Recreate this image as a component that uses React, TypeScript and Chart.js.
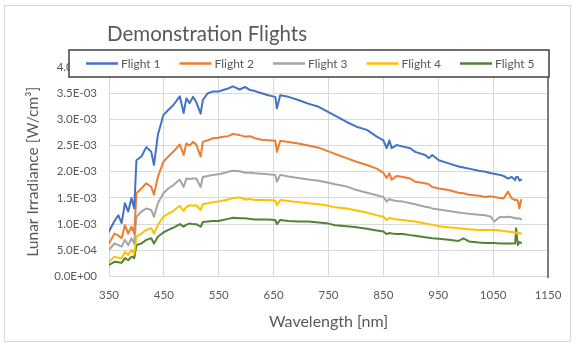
import React, { useEffect, useRef } from 'react';
import { Chart, registerables } from 'chart.js';

Chart.register(...registerables);

const chartTitle = 'Demonstration Flights';
const xAxisTitle = 'Wavelength [nm]';
const yAxisTitle = 'Lunar Irradiance [W/cm³]';

const seriesLabels = ['Flight 1', 'Flight 2', 'Flight 3', 'Flight 4', 'Flight 5'];
const seriesColors = ['#4472C4', '#ED7D31', '#A5A5A5', '#FFC000', '#548235'];

const xMin = 350;
const xMax = 1150;
const xStep = 100;
const yMin = 0;
const yMax = 0.004;
const yStep = 0.0005;

// wavelength samples [nm]
const wavelengths = [
  350, 360, 367, 373, 379, 385, 391, 396, 400, 409,
  418, 427, 432, 439, 449, 458, 467, 479, 486, 491,
  497, 503, 509, 517, 521, 530, 539, 549, 558, 567,
  576, 588, 598, 607, 616, 628, 640, 653, 656, 662,
  677, 695, 713, 732, 750, 762, 783, 801, 820, 838,
  850, 856, 861, 865, 874, 886, 899, 908, 926, 933,
  939, 951, 969, 987, 996, 1006, 1024, 1036, 1046, 1052,
  1063, 1069, 1077, 1084, 1090, 1092, 1095, 1098, 1101,
];

// irradiance [W/cm^3]
const flight1 = [
  0.86e-3, 1.06e-3, 1.17e-3, 1.02e-3, 1.40e-3, 1.24e-3, 1.50e-3, 1.30e-3, 2.22e-3, 2.29e-3,
  2.47e-3, 2.38e-3, 2.13e-3, 2.70e-3, 3.08e-3, 3.18e-3, 3.27e-3, 3.44e-3, 3.12e-3, 3.40e-3,
  3.31e-3, 3.43e-3, 3.33e-3, 3.11e-3, 3.37e-3, 3.50e-3, 3.53e-3, 3.53e-3, 3.56e-3, 3.59e-3,
  3.63e-3, 3.57e-3, 3.62e-3, 3.56e-3, 3.54e-3, 3.50e-3, 3.46e-3, 3.43e-3, 3.21e-3, 3.46e-3,
  3.43e-3, 3.37e-3, 3.30e-3, 3.24e-3, 3.14e-3, 3.07e-3, 2.95e-3, 2.86e-3, 2.80e-3, 2.67e-3,
  2.60e-3, 2.45e-3, 2.60e-3, 2.45e-3, 2.51e-3, 2.48e-3, 2.45e-3, 2.38e-3, 2.32e-3, 2.26e-3,
  2.32e-3, 2.22e-3, 2.16e-3, 2.10e-3, 2.08e-3, 2.06e-3, 2.02e-3, 2.00e-3, 1.97e-3, 1.96e-3,
  1.94e-3, 1.92e-3, 1.87e-3, 1.90e-3, 1.84e-3, 1.90e-3, 1.90e-3, 1.83e-3, 1.85e-3,
];
const flight2 = [
  0.63e-3, 0.82e-3, 0.78e-3, 0.73e-3, 0.98e-3, 0.82e-3, 0.95e-3, 0.82e-3, 1.59e-3, 1.68e-3,
  1.78e-3, 1.71e-3, 1.56e-3, 1.90e-3, 2.19e-3, 2.29e-3, 2.38e-3, 2.52e-3, 2.32e-3, 2.54e-3,
  2.50e-3, 2.57e-3, 2.52e-3, 2.29e-3, 2.57e-3, 2.60e-3, 2.64e-3, 2.65e-3, 2.67e-3, 2.68e-3,
  2.72e-3, 2.70e-3, 2.67e-3, 2.68e-3, 2.64e-3, 2.61e-3, 2.60e-3, 2.59e-3, 2.38e-3, 2.59e-3,
  2.57e-3, 2.54e-3, 2.50e-3, 2.46e-3, 2.39e-3, 2.34e-3, 2.26e-3, 2.19e-3, 2.13e-3, 2.06e-3,
  1.98e-3, 1.88e-3, 1.97e-3, 1.85e-3, 1.92e-3, 1.90e-3, 1.87e-3, 1.81e-3, 1.78e-3, 1.76e-3,
  1.71e-3, 1.68e-3, 1.65e-3, 1.60e-3, 1.59e-3, 1.56e-3, 1.54e-3, 1.52e-3, 1.53e-3, 1.52e-3,
  1.50e-3, 1.49e-3, 1.62e-3, 1.49e-3, 1.46e-3, 1.47e-3, 1.44e-3, 1.30e-3, 1.46e-3,
];
const flight3 = [
  0.51e-3, 0.63e-3, 0.60e-3, 0.57e-3, 0.70e-3, 0.60e-3, 0.73e-3, 0.63e-3, 1.14e-3, 1.24e-3,
  1.30e-3, 1.27e-3, 1.14e-3, 1.40e-3, 1.59e-3, 1.68e-3, 1.74e-3, 1.85e-3, 1.71e-3, 1.87e-3,
  1.86e-3, 1.87e-3, 1.87e-3, 1.71e-3, 1.90e-3, 1.92e-3, 1.94e-3, 1.95e-3, 1.97e-3, 2.00e-3,
  2.02e-3, 2.01e-3, 1.98e-3, 1.98e-3, 1.97e-3, 1.96e-3, 1.95e-3, 1.94e-3, 1.81e-3, 1.94e-3,
  1.91e-3, 1.88e-3, 1.85e-3, 1.83e-3, 1.79e-3, 1.76e-3, 1.72e-3, 1.65e-3, 1.60e-3, 1.55e-3,
  1.52e-3, 1.43e-3, 1.48e-3, 1.46e-3, 1.44e-3, 1.43e-3, 1.40e-3, 1.38e-3, 1.33e-3, 1.32e-3,
  1.30e-3, 1.28e-3, 1.25e-3, 1.22e-3, 1.21e-3, 1.20e-3, 1.18e-3, 1.17e-3, 1.14e-3, 1.05e-3,
  1.14e-3, 1.13e-3, 1.14e-3, 1.13e-3, 1.11e-3, 1.12e-3, 1.10e-3, 1.11e-3, 1.09e-3,
];
const flight4 = [
  0.28e-3, 0.38e-3, 0.36e-3, 0.35e-3, 0.47e-3, 0.41e-3, 0.51e-3, 0.44e-3, 0.76e-3, 0.82e-3,
  0.89e-3, 0.92e-3, 0.82e-3, 0.98e-3, 1.14e-3, 1.20e-3, 1.25e-3, 1.35e-3, 1.25e-3, 1.33e-3,
  1.36e-3, 1.35e-3, 1.36e-3, 1.27e-3, 1.38e-3, 1.40e-3, 1.42e-3, 1.43e-3, 1.45e-3, 1.47e-3,
  1.50e-3, 1.51e-3, 1.47e-3, 1.48e-3, 1.46e-3, 1.46e-3, 1.46e-3, 1.45e-3, 1.36e-3, 1.46e-3,
  1.44e-3, 1.42e-3, 1.40e-3, 1.38e-3, 1.35e-3, 1.32e-3, 1.30e-3, 1.26e-3, 1.22e-3, 1.17e-3,
  1.14e-3, 1.08e-3, 1.12e-3, 1.11e-3, 1.09e-3, 1.08e-3, 1.06e-3, 1.05e-3, 1.01e-3, 1.00e-3,
  0.99e-3, 0.96e-3, 0.94e-3, 0.92e-3, 0.91e-3, 0.90e-3, 0.89e-3, 0.89e-3, 0.89e-3, 0.89e-3,
  0.88e-3, 0.87e-3, 0.86e-3, 0.85e-3, 0.84e-3, 0.83e-3, 0.81e-3, 0.83e-3, 0.82e-3,
];
const flight5 = [
  0.22e-3, 0.28e-3, 0.27e-3, 0.26e-3, 0.35e-3, 0.31e-3, 0.38e-3, 0.35e-3, 0.60e-3, 0.63e-3,
  0.70e-3, 0.73e-3, 0.63e-3, 0.76e-3, 0.84e-3, 0.89e-3, 0.93e-3, 1.00e-3, 0.95e-3, 0.99e-3,
  1.01e-3, 1.00e-3, 1.00e-3, 0.95e-3, 1.04e-3, 1.05e-3, 1.06e-3, 1.06e-3, 1.08e-3, 1.10e-3,
  1.12e-3, 1.11e-3, 1.11e-3, 1.10e-3, 1.09e-3, 1.09e-3, 1.09e-3, 1.08e-3, 1.00e-3, 1.08e-3,
  1.06e-3, 1.05e-3, 1.05e-3, 1.03e-3, 1.01e-3, 0.98e-3, 0.96e-3, 0.94e-3, 0.91e-3, 0.88e-3,
  0.86e-3, 0.81e-3, 0.83e-3, 0.82e-3, 0.81e-3, 0.81e-3, 0.79e-3, 0.78e-3, 0.75e-3, 0.74e-3,
  0.73e-3, 0.72e-3, 0.70e-3, 0.68e-3, 0.73e-3, 0.67e-3, 0.65e-3, 0.64e-3, 0.64e-3, 0.64e-3,
  0.63e-3, 0.63e-3, 0.63e-3, 0.63e-3, 0.63e-3, 0.92e-3, 0.60e-3, 0.66e-3, 0.64e-3,
];

const seriesValues = [flight1, flight2, flight3, flight4, flight5];

const FONT = 'Lato, "Open Sans", sans-serif';
const TEXT = '#595959';

function formatSci(v: number): string {
  if (v === 0) return '0.0E+00';
  const [m, e] = v.toExponential(1).split('e');
  const n = parseInt(e, 10);
  const sign = n < 0 ? '-' : '+';
  const abs = Math.abs(n);
  return `${m}E${sign}${abs < 10 ? '0' + abs : abs}`;
}

const decorPlugin = {
  id: 'decor',
  beforeDraw(chart: any) {
    const ctx = chart.ctx;
    ctx.save();
    ctx.fillStyle = '#ffffff';
    ctx.fillRect(0, 0, chart.width, chart.height);
    ctx.strokeStyle = '#d9d9d9';
    ctx.lineWidth = 1;
    ctx.strokeRect(4.5, 5.5, 566, 336);
    ctx.restore();
  },
  afterDraw(chart: any) {
    const ctx = chart.ctx;
    const area = chart.chartArea;
    ctx.save();
    // right frame edge
    ctx.strokeStyle = '#595959';
    ctx.lineWidth = 1.5;
    ctx.beginPath();
    ctx.moveTo(area.right, 77);
    ctx.lineTo(area.right, area.bottom + 1.5);
    ctx.stroke();

    // title
    ctx.fillStyle = TEXT;
    ctx.font = `20.5px ${FONT}`;
    ctx.textBaseline = 'middle';
    ctx.textAlign = 'left';
    ctx.fillText(chartTitle, 107, 34);

    // legend
    const bx = 69, by = 50, bw = 480, bh = 27;
    ctx.fillStyle = '#ffffff';
    ctx.fillRect(bx, by, bw, bh);
    ctx.strokeStyle = '#404040';
    ctx.lineWidth = 1.5;
    ctx.strokeRect(bx, by, bw, bh);
    const cy = by + bh / 2;
    ctx.font = `12px ${FONT}`;
    chart.data.datasets.forEach((ds: any, i: number) => {
      const x0 = 86 + i * 93.5;
      ctx.strokeStyle = ds.borderColor;
      ctx.lineWidth = 2.5;
      ctx.beginPath();
      ctx.moveTo(x0, cy);
      ctx.lineTo(x0 + 32, cy);
      ctx.stroke();
      ctx.fillStyle = TEXT;
      ctx.fillText(ds.label, x0 + 35, cy + 0.5);
    });
    ctx.restore();
  },
};

export default function App() {
  const canvasRef = useRef<HTMLCanvasElement | null>(null);

  useEffect(() => {
    document.body.style.margin = '0';
    const canvas = canvasRef.current;
    if (!canvas) return;
    const datasets = seriesLabels.map((label, i) => ({
      label,
      data: wavelengths.map((w, j) => ({ x: w, y: seriesValues[i][j] })),
      borderColor: seriesColors[i],
      backgroundColor: seriesColors[i],
      borderWidth: 2,
      borderJoinStyle: 'round',
      borderCapStyle: 'round',
      pointRadius: 0,
      tension: 0,
      fill: false,
    }));
    const chart = new Chart(canvas, {
      type: 'line',
      data: { datasets },
      plugins: [decorPlugin],
      options: {
        animation: false,
        responsive: false,
        maintainAspectRatio: false,
        layout: { padding: { left: 0, top: 67, right: 28, bottom: 0 } },
        plugins: {
          legend: { display: false },
          title: { display: false },
          tooltip: { enabled: false },
        },
        scales: {
          x: {
            type: 'linear',
            min: xMin,
            max: xMax,
            ticks: {
              stepSize: xStep,
              color: TEXT,
              font: { family: FONT, size: 11.5 },
              padding: 12,
              maxRotation: 0,
              callback: (v: any) => String(v),
            },
            grid: { color: '#d9d9d9', drawTicks: false },
            border: { color: '#d9d9d9' },
            title: {
              display: true,
              text: xAxisTitle,
              color: TEXT,
              font: { family: FONT, size: 16 },
              padding: { top: 0, bottom: 16 },
            },
            afterFit: (scale: any) => {
              scale.height = 70.5;
            },
          },
          y: {
            type: 'linear',
            min: yMin,
            max: yMax,
            ticks: {
              stepSize: yStep,
              color: TEXT,
              font: { family: FONT, size: 11.5 },
              padding: 12,
              callback: (v: any) => formatSci(Number(v)),
            },
            grid: { color: '#d9d9d9', drawTicks: false },
            border: { color: '#d9d9d9' },
            title: {
              display: true,
              text: yAxisTitle,
              color: TEXT,
              font: { family: FONT, size: 15.5 },
              padding: { top: 24, bottom: 0 },
            },
            afterFit: (scale: any) => {
              scale.width = 109;
            },
          },
        },
      } as any,
    });
    return () => chart.destroy();
  }, []);

  return (
    <div style={{ width: 576, height: 347, position: 'relative' }}>
      <canvas ref={canvasRef} width={576} height={347} style={{ display: 'block', width: 576, height: 347 }} />
    </div>
  );
}
